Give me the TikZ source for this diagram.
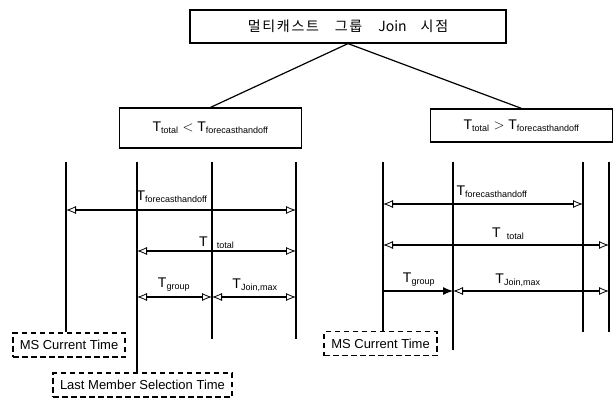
\documentclass[tikz,border=0pt]{standalone}
\usepackage{fontspec}
\setmainfont{Liberation Sans}
\newfontfamily\kofont[LetterSpace=12]{Noto Sans CJK KR}
\usetikzlibrary{arrows.meta}
\tikzset{
    title-box/.style = {draw, line width=1.2pt, rectangle, minimum width=316pt, minimum height=33pt, font=\fontsize{14}{16}\selectfont},
    cond-box/.style = {draw, line width=1.2pt, rectangle, minimum width=182pt, font=\fontsize{14}{16}\selectfont},
    time-box/.style = {draw, line width=1.4pt, dash pattern=on 5.5pt off 3.5pt, rectangle, minimum height=24pt, inner xsep=2pt, font=\fontsize{13}{15}\selectfont},
    time-line/.style = {line width=1.3pt},
    span-arrow/.style = {line width=1.2pt, {Latex[open,length=10pt,width=8pt,line width=0.8pt]}-{Latex[open,length=10pt,width=8pt,line width=0.8pt]}},
    span-label/.style = {inner sep=0pt, font=\fontsize{14}{16}\selectfont},
}
\newcommand{\Tsub}[1]{T\textsubscript{\fontsize{9}{10}\selectfont #1}}

\begin{document}
\begin{tikzpicture}[x=1pt, y=-1pt]
\useasboundingbox (0,0) rectangle (613,398);
% decision boxes
\node [title-box] (join) at (348,26.5) {\kofont 멀티캐스트\hspace{16pt}그룹\hspace{16pt}{\addfontfeature{LetterSpace=0}Join}\hspace{14pt}시점};
\node [cond-box, minimum height=40pt] (less) at (210.5,128) {\Tsub{total} $<$ \Tsub{forecasthandoff}};
\node [cond-box, minimum height=33pt] (more) at (521.5,125.5) {\Tsub{total} $>$ \Tsub{forecasthandoff}};
\draw [line width=1.2pt] (join.south) -- (less.north);
\draw [line width=1.2pt] (join.south) -- (more.north);

% time marks
\node [time-box, minimum width=112pt] (ms-left) at (69,345) {MS Current Time};
\node [time-box, minimum width=179pt] (last-sel) at (142.5,385) {Last Member Selection Time};
\node [time-box, minimum width=113pt] (ms-right) at (380.5,343.5) {MS Current Time};

% left case: time lines
\coordinate (a1) at (66,162);
\coordinate (a2) at (137,162);
\coordinate (a3) at (212,162);
\coordinate (a4) at (296,162);
\draw [time-line] (a1) -- (a1 |- ms-left.north);
\draw [time-line] (a2) -- (a2 |- last-sel.north);
\draw [time-line] (a3) -- ++(0,177);
\draw [time-line] (a4) -- ++(0,177);

\draw [span-arrow] (a1 |- 0,210) -- (a4 |- 0,210);
\draw [span-arrow] (a2 |- 0,251) -- (a4 |- 0,251);
\draw [span-arrow] (a2 |- 0,297) -- (a3 |- 0,297);
\draw [span-arrow] (a3 |- 0,297) -- (a4 |- 0,297);
\node [span-label] (fh-left) at (172,197) {\Tsub{forecasthandoff}};
\node [span-label, anchor=west] (tot-left) at (199,243) {T\hspace{9pt}\textsubscript{\fontsize{9}{10}\selectfont total}};
\node [span-label] (grp-left) at (174,285) {\Tsub{group}};
\node [span-label] (jm-left) at (255,285) {\Tsub{Join,max}};

% right case: time lines
\coordinate (b1) at (383,162);
\coordinate (b2) at (453,162);
\coordinate (b3) at (583,162);
\coordinate (b4) at (609,162);
\draw [time-line] (b1) -- (b1 |- ms-right.north);
\draw [time-line] (b2) -- ++(0,188);
\draw [time-line] (b3) -- ++(0,170);
\draw [time-line] (b4) -- ++(0,170);

\draw [span-arrow] (b1 |- 0,204) -- (b3 |- 0,204);
\draw [span-arrow] (b1 |- 0,245) -- (b4 |- 0,245);
\draw [span-arrow, -{Latex[length=10pt,width=8pt]}] (b1 |- 0,291) -- (b2 |- 0,291);
\draw [span-arrow] (b2 |- 0,291) -- (b4 |- 0,291);
\node [span-label] (fh-right) at (492,192) {\Tsub{forecasthandoff}};
\node [span-label, anchor=west] (tot-right) at (492,234) {T\hspace{6pt}\textsubscript{\fontsize{9}{10}\selectfont total}};
\node [span-label] (grp-right) at (419,280) {\Tsub{group}};
\node [span-label] (jm-right) at (518,280) {\Tsub{Join,max}};
\end{tikzpicture}
\end{document}
